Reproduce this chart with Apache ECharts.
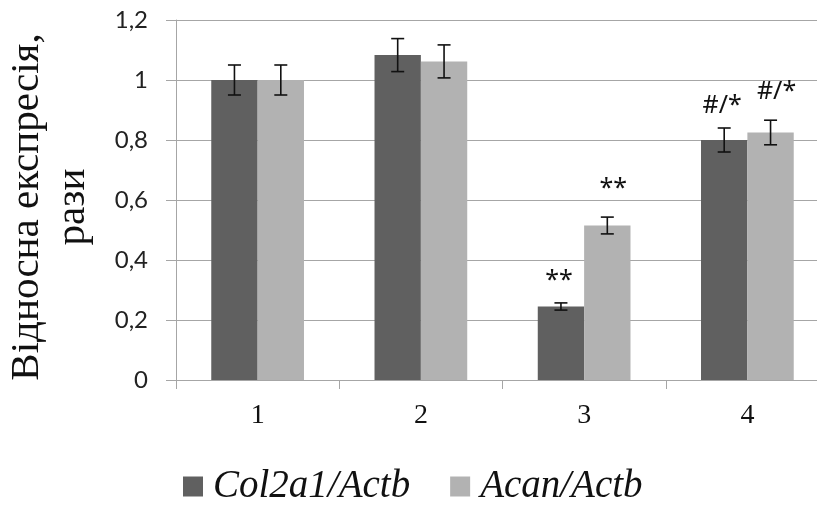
<!DOCTYPE html>
<html>
<head>
<meta charset="utf-8">
<script src="https://cdn.jsdelivr.net/npm/echarts@6/dist/echarts.min.js"></script>
<style>html,body{margin:0;padding:0;background:#fff}#c{width:817px;height:505px}</style>
</head>
<body>
<div id="c"></div>
<script>
const categories = ['1', '2', '3', '4'];
const yTicks = ['0', '0,2', '0,4', '0,6', '0,8', '1', '1,2'];
const col2a1 = [1.0, 1.083, 0.245, 0.80];
const col2a1Err = [0.05, 0.055, 0.012, 0.04];
const acan = [1.0, 1.062, 0.515, 0.825];
const acanErr = [0.05, 0.055, 0.028, 0.041];
const col2a1Marks = ['', '', '**', '#/*'];
const acanMarks = ['', '', '**', '#/*'];

const DARK = '#606060', LIGHT = '#b2b2b2', GRID = '#a6a6a6';
const BAR_W = 0.284;

function errSeries(vals, errs, marks, side, gap, dx) {
  return {
    type: 'custom',
    silent: true,
    z: 5,
    data: vals.map((v, i) => [i, v, errs[i]]),
    encode: { x: 0, y: 1 },
    renderItem: function (params, api) {
      const i = api.value(0), v = api.value(1), e = api.value(2);
      const top = api.coord([i, v + e]);
      const bot = api.coord([i, v - e]);
      const catW = api.size([1, 0])[0];
      const cx = top[0] + side * catW * BAR_W / 2;
      const cap = 6.5;
      const st = { stroke: '#111', lineWidth: 1.6 };
      const children = [
        { type: 'line', shape: { x1: cx, y1: top[1], x2: cx, y2: bot[1] }, style: st },
        { type: 'line', shape: { x1: cx - cap, y1: top[1], x2: cx + cap, y2: top[1] }, style: st },
        { type: 'line', shape: { x1: cx - cap, y1: bot[1], x2: cx + cap, y2: bot[1] }, style: st }
      ];
      const m = marks[params.dataIndex];
      if (m) {
        children.push({
          type: 'text',
          style: {
            text: m, x: cx + dx, y: top[1] - gap,
            align: 'center', verticalAlign: 'middle',
            fontFamily: 'Noto Sans', fontSize: 25, fill: '#111'
          }
        });
      }
      return { type: 'group', children: children };
    }
  };
}

const chart = echarts.init(document.getElementById('c'), null, { renderer: 'canvas' });
chart.setOption({
  animation: false,
  backgroundColor: '#fff',
  grid: { left: 176, top: 20, width: 653, height: 360, containLabel: false, outerBoundsMode: 'none' },
  legend: {
    left: 178, top: 462,
    itemWidth: 20, itemHeight: 20, itemGap: 40,
    icon: 'rect',
    textStyle: { fontFamily: 'Liberation Serif', fontStyle: 'italic', fontSize: 39, lineHeight: 38, color: '#111', padding: [0, 0, 0, 5] },
    data: ['Col2a1/Actb', 'Acan/Actb']
  },
  xAxis: {
    type: 'category',
    data: categories,
    axisLine: { lineStyle: { color: GRID, width: 1 } },
    axisTick: { show: true, length: 9, lineStyle: { color: GRID } },
    axisLabel: { fontFamily: 'Liberation Serif', fontSize: 28, color: '#111', margin: 22 }
  },
  yAxis: {
    type: 'value',
    min: 0, max: 1.2, interval: 0.2,
    name: 'Відносна експресія,\nрази',
    nameLocation: 'middle',
    nameRotate: 90,
    nameGap: 80,
    nameTextStyle: { fontFamily: 'Liberation Serif', fontSize: 41, lineHeight: 46, color: '#111', padding: [0, 14, 0, 0] },
    axisLine: { show: true, lineStyle: { color: GRID, width: 1 } },
    axisTick: { show: true, length: 10, lineStyle: { color: GRID } },
    splitLine: { lineStyle: { color: GRID, width: 1 } },
    axisLabel: {
      fontFamily: 'Lato', fontSize: 24, color: '#222', margin: 28,
      formatter: function (v) { return yTicks[Math.round(v / 0.2)]; }
    }
  },
  series: [
    { name: 'Col2a1/Actb', type: 'bar', data: col2a1, barWidth: (BAR_W * 100) + '%', barGap: '0%', itemStyle: { color: DARK } },
    { name: 'Acan/Actb', type: 'bar', data: acan, barWidth: (BAR_W * 100) + '%', barGap: '0%', itemStyle: { color: LIGHT } },
    errSeries(col2a1, col2a1Err, col2a1Marks, -1, 22, -2),
    errSeries(acan, acanErr, acanMarks, 1, 28, 6)
  ]
});
</script>
</body>
</html>
